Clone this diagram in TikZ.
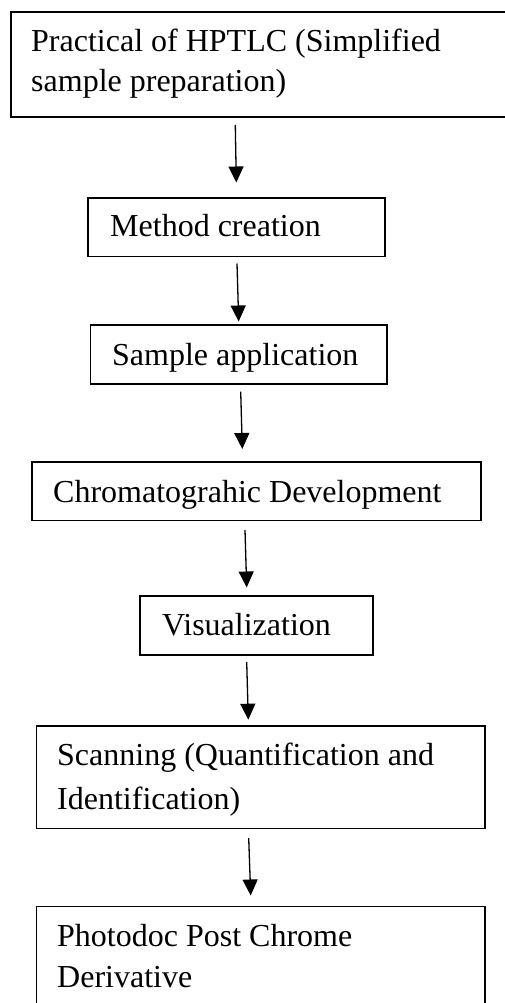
\documentclass[tikz,border=0pt]{standalone}
\usepackage{fontspec}
\setmainfont{Liberation Serif}
\usetikzlibrary{arrows.meta}
\begin{document}
\begin{tikzpicture}[x=1pt,y=-1pt,
  boxshape/.style={draw=black,line width=1.6pt},
  txt/.style={anchor=base west,inner sep=0pt,font=\fontsize{32}{40}\selectfont},
  flow/.style={line width=1.3pt,-{Triangle[length=16pt,width=15pt]}}]
\useasboundingbox[fill=white] (0,0) rectangle (504,1003);
% boxes
\draw[boxshape] (11,12) rectangle (512,117);
\draw[boxshape] (88,198) rectangle (385,256.5);
\draw[boxshape] (90.5,325) rectangle (387,384);
\draw[boxshape] (32,462) rectangle (481,520.5);
\draw[boxshape] (140,596) rectangle (373,655);
\draw[boxshape] (36.3,725.7) rectangle (485,828.3);
\draw[boxshape] (36.3,906.3) rectangle (485,1015);
% texts
\node[txt] (t1a) at (31,51.7) {Practical of HPTLC (Simplified};
\node[txt] (t1b) at (31,91.7) {sample preparation)};
\node[txt] (t2) at (110,236) {Method creation};
\node[txt] (t3) at (112,365) {Sample application};
\node[txt] (t4) at (53,502) {Chromatograhic Development};
\node[txt] (t5) at (162,635) {Visualization};
\node[txt] (t6a) at (57,765) {Scanning (Quantification and};
\node[txt] (t6b) at (57,809) {Identification)};
\node[txt] (t7a) at (57,946) {Photodoc Post Chrome};
\node[txt] (t7b) at (57,987) {Derivative};
% arrow ends
\coordinate (a1s) at (235.3,125);
\coordinate (a1e) at (236.3,182.5);
\coordinate (a2s) at (237,263.5);
\coordinate (a2e) at (238.7,321.5);
\coordinate (a3s) at (240.7,391.7);
\coordinate (a3e) at (242.3,449);
\coordinate (a4s) at (245,530);
\coordinate (a4e) at (246.7,587.5);
\coordinate (a5s) at (246.7,662);
\coordinate (a5e) at (248.3,719.7);
\coordinate (a6s) at (248.7,838);
\coordinate (a6e) at (250.7,895.5);
\draw[flow] (a1s) -- (a1e);
\draw[flow] (a2s) -- (a2e);
\draw[flow] (a3s) -- (a3e);
\draw[flow] (a4s) -- (a4e);
\draw[flow] (a5s) -- (a5e);
\draw[flow] (a6s) -- (a6e);
\end{tikzpicture}
\end{document}
